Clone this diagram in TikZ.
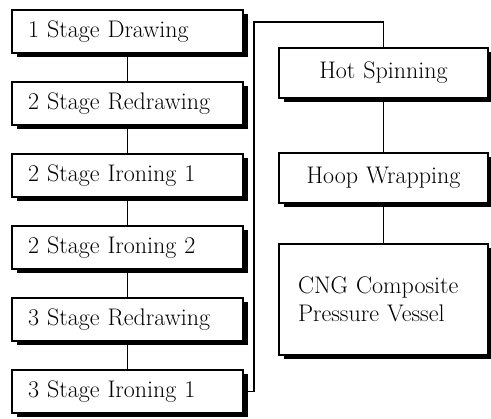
\documentclass[tikz,border=0pt]{standalone}
\usepackage{tikz}
\usetikzlibrary{positioning,shadows}

\begin{document}
\begin{tikzpicture}[
    x=1pt, y=-1pt,
    font=\fontsize{24}{28}\selectfont,
    line width=1.3pt,
    blk/.style={draw=black, fill=white, line width=1.3pt,
                drop shadow={fill=black, opacity=1, shadow xshift=4.5pt, shadow yshift=-4.5pt}},
    stg/.style={blk, minimum width=231pt, minimum height=43pt, inner xsep=16pt,
                text width=199pt, align=left},
    prc/.style={blk, minimum width=209pt, minimum height=50pt, inner xsep=10pt,
                text width=189pt, align=center},
  ]
    \useasboundingbox (0,0) rectangle (491,419);

    \node[stg] (d1) at (127.5,31.5)  {1 Stage Drawing};
    \node[stg] (r2) at (127.5,103.5) {2 Stage Redrawing};
    \node[stg] (i21) at (127.5,175.5) {2 Stage Ironing 1};
    \node[stg] (i22) at (127.5,247.5) {2 Stage Ironing 2};
    \node[stg] (r3) at (127.5,319.5) {3 Stage Redrawing};
    \node[stg] (i31) at (127.5,391.5) {3 Stage Ironing 1};

    \node[prc] (spin) at (383.5,73)  {Hot Spinning};
    \node[prc] (hoop) at (383.5,178) {Hoop Wrapping};
    \node[blk, minimum width=209pt, minimum height=111pt, inner xsep=19pt,
          text width=171pt, align=left] (cng) at (383.5,299.5)
      {CNG Composite\\Pressure Vessel};

    \coordinate (turn) at (254,22);

    \draw (d1) -- (r2);
    \draw (r2) -- (i21);
    \draw (i21) -- (i22);
    \draw (i22) -- (r3);
    \draw (r3) -- (i31);
    \draw (i31.east) -| (turn) -| (spin.north);
    \draw (spin) -- (hoop);
    \draw (hoop) -- (cng);
  \end{tikzpicture}
\end{document}
